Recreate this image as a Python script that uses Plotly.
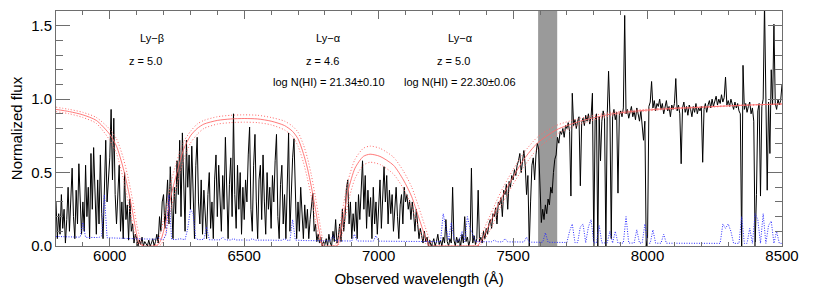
import numpy as np
import plotly.graph_objects as go

# ---------------- data ----------------
WAVE = np.arange(5800, 8501, 5)          # observed wavelength grid (Å)

F5800 = [0.30,0.05,0.22,0.08,0.35,0.12,0.25,0.02,0.18,0.40,0.10,0.30,0.53,0.20,0.05,0.38,0.15,0.56,0.25,0.08]
F5900 = [0.30,0.10,0.55,0.20,0.40,0.05,0.63,0.25,0.67,0.30,0.08,0.45,0.15,0.62,0.22,0.05,0.40,0.72,0.30,0.50]
F6000 = [0.60,0.93,0.45,0.87,0.35,0.15,0.42,0.55,0.10,0.30,0.05,0.50,0.18,0.28,0.04,0.32,0.10,0.15,0.02,0.08]
F6100 = [0.05,0.00,0.04,0.01,0.06,0.00,0.03,0.01,0.00,0.04,0.00,0.02,0.05,0.00,0.03,0.08,0.02,0.20,0.10,0.30]
F6200 = [0.35,0.12,0.28,0.45,0.15,0.54,0.30,0.05,0.40,0.22,0.58,0.35,0.72,0.20,0.77,0.45,0.10,0.72,0.40,0.62]
F6300 = [0.25,0.68,0.35,0.05,0.55,0.74,0.30,0.15,0.45,0.08,0.38,0.20,0.05,0.35,0.50,0.12,0.30,0.05,0.45,0.62]
F6400 = [0.20,0.55,0.35,0.10,0.48,0.25,0.74,0.30,0.05,0.42,0.60,0.20,0.90,0.35,0.12,0.55,0.25,0.50,0.08,0.40]
F6500 = [0.18,0.45,0.30,0.62,0.81,0.25,0.10,0.55,0.76,0.30,0.05,0.45,0.55,0.18,0.62,0.30,0.08,0.50,0.25,0.40]
F6600 = [0.12,0.48,0.30,0.58,0.76,0.20,0.05,0.42,0.55,0.15,0.35,0.05,0.45,0.77,0.10,0.38,0.60,0.73,0.30,0.05]
F6700 = [0.30,0.10,0.40,0.20,0.05,0.28,0.12,0.25,0.05,0.18,0.30,0.36,0.10,0.15,0.03,0.08,0.02,0.06,0.00,0.03]
F6800 = [0.01,0.05,0.00,0.08,0.02,0.00,0.10,0.03,0.18,0.02,0.06,0.15,0.03,0.25,0.10,0.20,0.39,0.45,0.15,0.30]
F6900 = [0.05,0.22,0.10,0.30,0.05,0.35,0.18,0.45,0.58,0.25,0.48,0.12,0.38,0.20,0.33,0.05,0.40,0.15,0.30,0.08]
F7000 = [0.25,0.45,0.12,0.35,0.54,0.30,0.48,0.15,0.38,0.22,0.35,0.10,0.30,0.40,0.20,0.05,0.28,0.35,0.15,0.40]
F7100 = [0.30,0.35,0.25,0.31,0.18,0.30,0.22,0.10,0.25,0.15,0.05,0.12,0.08,0.02,0.10,0.03,0.06,0.00,0.04,0.00]
F7200 = [0.02,0.05,0.00,0.03,0.08,0.01,0.04,0.00,0.06,0.02,0.18,0.03,0.00,0.05,0.02,0.40,0.04,0.00,0.06,0.02]
F7300 = [0.05,0.00,0.08,0.02,0.20,0.03,0.06,0.00,0.04,0.53,0.02,0.07,0.01,0.05,0.38,0.03,0.06,0.02,0.10,0.05]
F7400 = [0.12,0.08,0.15,0.18,0.12,0.22,0.20,0.26,0.15,0.30,0.28,0.33,0.20,0.38,0.35,0.42,0.25,0.44,0.40,0.48]
F7500 = [0.45,0.52,0.48,0.55,0.58,0.63,0.50,0.60,0.65,0.55,0.35,0.48,0.00,0.30,0.55,0.60,0.45,0.62,0.70,0.66]
F7600 = [0.45,0.16,0.25,0.18,0.28,0.22,0.32,0.28,0.40,0.36,0.50,0.59,0.62,0.74,0.70,0.78,0.76,0.80,0.74,0.82]
F7700 = [0.80,0.84,0.78,0.34,1.04,0.82,0.86,0.80,0.85,0.88,0.41,0.84,0.87,0.82,0.89,0.85,0.90,0.83,0.88,1.04]
F7800 = [0.00,0.86,0.90,0.00,0.88,0.58,0.85,0.92,0.87,0.00,0.89,1.19,0.90,0.05,0.88,0.93,0.86,0.91,0.36,0.89]
F7900 = [0.92,0.88,0.94,1.57,0.90,0.93,0.87,0.91,0.95,0.88,0.92,0.86,0.94,0.90,0.85,0.92,0.80,0.72,0.85,0.00]
F8000 = [0.05,0.95,0.98,1.12,0.94,0.99,0.92,0.97,0.95,1.00,0.93,0.97,0.90,0.96,0.99,0.92,0.95,0.88,0.96,0.93]
F8100 = [0.97,1.14,0.92,0.96,0.90,0.56,0.94,0.98,0.91,0.95,0.89,0.96,0.93,0.88,0.95,0.91,0.97,0.90,0.94,0.92]
F8200 = [0.95,0.57,0.93,0.97,0.91,0.96,0.99,0.94,1.00,0.95,0.98,1.02,0.96,1.00,0.97,1.03,0.98,1.01,1.15,0.96]
F8300 = [0.99,0.95,1.00,0.96,0.93,0.98,0.94,0.97,0.92,0.90,0.00,1.23,0.93,0.97,0.91,0.95,0.98,0.90,0.94,0.85]
F8400 = [0.00,0.35,0.92,0.97,0.34,0.95,1.00,1.65,0.94,0.38,0.98,0.63,1.20,0.96,1.51,0.97,0.93,1.00,0.96,0.99]
F8500 = [1.10]

FLUX = (F5800 + F5900 + F6000 + F6100 + F6200 + F6300 + F6400 + F6500 + F6600 + F6700 +
        F6800 + F6900 + F7000 + F7100 + F7200 + F7300 + F7400 + F7500 + F7600 + F7700 +
        F7800 + F7900 + F8000 + F8100 + F8200 + F8300 + F8400 + F8500)

ERR_WAVE = np.arange(5800, 8501, 10)
E5800 = [0.065,0.064,0.063,0.063,0.062,0.062,0.061,0.060,0.060,0.060]
E5900 = [0.16,0.059,0.058,0.058,0.057,0.057,0.058,0.070,0.35,0.056]
E6000 = [0.055,0.055,0.054,0.054,0.053,0.052,0.052,0.051,0.050,0.050]
E6100 = [0.049,0.049,0.048,0.048,0.047,0.047,0.046,0.046,0.060,0.046]
E6200 = [0.045,0.080,0.35,0.045,0.044,0.044,0.050,0.044,0.043,0.12]
E6300 = [0.25,0.22,0.050,0.043,0.043,0.045,0.13,0.043,0.042,0.042]
E6400 = [0.042,0.042,0.060,0.042,0.041,0.041,0.050,0.041,0.041,0.041]
E6500 = [0.041,0.040,0.040,0.050,0.040,0.040,0.040,0.045,0.040,0.040]
E6600 = [0.040,0.039,0.039,0.040,0.039,0.050,0.039,0.038,0.18,0.040]
E6700 = [0.038,0.038,0.037,0.037,0.037,0.036,0.036,0.036,0.036,0.035]
E6800 = [0.035,0.035,0.035,0.070,0.035,0.034,0.034,0.034,0.034,0.034]
E6900 = [0.034,0.080,0.034,0.034,0.033,0.033,0.033,0.033,0.033,0.070]
E7000 = [0.033,0.033,0.032,0.032,0.032,0.032,0.032,0.032,0.031,0.031]
E7100 = [0.031,0.031,0.031,0.031,0.031,0.030,0.030,0.030,0.030,0.030]
E7200 = [0.030,0.030,0.030,0.030,0.22,0.13,0.040,0.16,0.050,0.030]
E7300 = [0.040,0.10,0.030,0.20,0.12,0.080,0.030,0.029,0.029,0.029]
E7400 = [0.029,0.029,0.029,0.040,0.029,0.028,0.028,0.050,0.028,0.028]
E7500 = [0.028,0.027,0.027,0.027,0.027,0.060,0.026,0.026,0.026,0.026]
E7600 = [0.026,0.025,0.090,0.025,0.025,0.025,0.024,0.024,0.024,0.024]
E7700 = [0.024,0.10,0.15,0.023,0.023,0.13,0.15,0.022,0.13,0.18]
E7800 = [0.022,0.021,0.14,0.021,0.021,0.021,0.10,0.020,0.10,0.020]
E7900 = [0.020,0.020,0.20,0.020,0.020,0.020,0.11,0.020,0.020,0.15]
E8000 = [0.019,0.019,0.11,0.019,0.019,0.019,0.080,0.019,0.019,0.019]
E8100 = [0.018,0.018,0.018,0.018,0.018,0.018,0.018,0.018,0.018,0.018]
E8200 = [0.018,0.018,0.018,0.018,0.018,0.018,0.018,0.018,0.15,0.12]
E8300 = [0.15,0.10,0.018,0.018,0.018,0.20,0.018,0.018,0.12,0.018]
E8400 = [0.22,0.18,0.018,0.22,0.018,0.14,0.17,0.018,0.10,0.018]
E8500 = [0.018]
ERR = (E5800 + E5900 + E6000 + E6100 + E6200 + E6300 + E6400 + E6500 + E6600 + E6700 +
       E6800 + E6900 + E7000 + E7100 + E7200 + E7300 + E7400 + E7500 + E7600 + E7700 +
       E7800 + E7900 + E8000 + E8100 + E8200 + E8300 + E8400 + E8500)

MODEL_WAVE = [5800,5850,5900,5950,6000,6025,6050,6070,6085,6100,6110,6125,6165,6180,6190,
              6200,6215,6230,6250,6275,6300,6325,6350,6400,6450,6500,6550,6600,6650,6680,
              6700,6720,6735,6750,6765,6778,6790,6800,6835,6845,6855,6870,6887,6912,6943,
              6968,7005,7055,7092,7123,7148,7173,7190,7205,7350,7365,7380,7415,7452,7500,
              7540,7590,7660,7750,7870,8030,8200,8350,8500]
MODEL = [0.930,0.915,0.893,0.855,0.76,0.68,0.53,0.37,0.23,0.08,0.02,0.0,0.0,0.01,0.04,
         0.10,0.22,0.36,0.50,0.66,0.75,0.80,0.83,0.855,0.865,0.868,0.865,0.85,0.82,0.78,
         0.73,0.63,0.53,0.40,0.25,0.11,0.01,0.0,0.0,0.0,0.06,0.21,0.38,0.53,0.61,
         0.625,0.61,0.55,0.45,0.335,0.20,0.065,0.0,0.0,0.0,0.0,0.03,0.16,0.31,0.47,
         0.59,0.70,0.79,0.85,0.90,0.93,0.945,0.958,0.967]
MODEL_HI = [0.945,0.93,0.91,0.875,0.795,0.73,0.60,0.45,0.31,0.15,0.07,0.0,0.0,0.04,0.10,
            0.18,0.31,0.45,0.58,0.71,0.78,0.83,0.855,0.88,0.89,0.893,0.89,0.875,0.85,0.815,
            0.775,0.69,0.60,0.48,0.33,0.19,0.06,0.0,0.0,0.03,0.13,0.29,0.45,0.59,0.665,
            0.68,0.665,0.605,0.51,0.40,0.27,0.13,0.04,0.0,0.0,0.02,0.07,0.21,0.36,0.52,
            0.635,0.74,0.82,0.87,0.91,0.935,0.948,0.96,0.968]
MODEL_LO = [0.915,0.90,0.875,0.835,0.72,0.63,0.46,0.29,0.15,0.03,0.0,0.0,0.0,0.0,0.01,
            0.04,0.14,0.27,0.42,0.59,0.70,0.76,0.80,0.83,0.84,0.843,0.84,0.825,0.79,0.745,
            0.68,0.57,0.46,0.33,0.17,0.05,0.0,0.0,0.0,0.0,0.02,0.13,0.30,0.46,0.55,
            0.57,0.555,0.49,0.39,0.27,0.13,0.02,0.0,0.0,0.0,0.0,0.01,0.11,0.26,0.42,
            0.54,0.66,0.76,0.83,0.89,0.925,0.942,0.956,0.966]

TELLURIC_BAND = [7593, 7664]

LABEL_X = [6157, 6812, 7303]
LABEL_LINE = ["Ly\u2212\u03b2", "Ly\u2212\u03b1", "Ly\u2212\u03b1"]
Z_X = [6131, 6791, 7277]
Z_TEXT = ["z = 5.0", "z = 4.6", "z = 5.0"]
N_X = [6816, 7302]
N_TEXT = ["log N(HI) = 21.34\u00b10.10", "log N(HI) = 22.30\u00b10.06"]

# ---------------- figure ----------------
FONT = "Liberation Sans, Arial, Helvetica, sans-serif"
AXC = "#6e6e6e"

fig = go.Figure()

fig.add_shape(type="rect", xref="x", yref="paper", x0=TELLURIC_BAND[0], x1=TELLURIC_BAND[1],
              y0=0, y1=1, fillcolor="#9a9a9a", line_width=0, layer="below")

fig.add_trace(go.Scatter(x=WAVE, y=FLUX, mode="lines",
                         line=dict(color="black", width=1.0), hoverinfo="skip"))
red = "#ff6a6a"
fig.add_trace(go.Scatter(x=MODEL_WAVE, y=MODEL_HI, mode="lines",
                         line=dict(color=red, width=1, dash="1px,2px", shape="spline", smoothing=0.7)))
fig.add_trace(go.Scatter(x=MODEL_WAVE, y=MODEL_LO, mode="lines",
                         line=dict(color=red, width=1, dash="1px,2px", shape="spline", smoothing=0.7)))
fig.add_trace(go.Scatter(x=MODEL_WAVE, y=MODEL, mode="lines",
                         line=dict(color=red, width=0.9, shape="spline", smoothing=0.7)))
fig.add_trace(go.Scatter(x=ERR_WAVE, y=ERR, mode="lines",
                         line=dict(color="#2a2aff", width=1, dash="1px,1.5px")))

for x, t in zip(LABEL_X, LABEL_LINE):
    fig.add_annotation(x=x, y=1.415, text=t, showarrow=False, xanchor="center", yanchor="middle",
                       font=dict(size=11, color="black", family=FONT))
for x, t in zip(Z_X, Z_TEXT):
    fig.add_annotation(x=x, y=1.259, text=t, showarrow=False, xanchor="center", yanchor="middle",
                       font=dict(size=11, color="black", family=FONT))
for x, t in zip(N_X, N_TEXT):
    fig.add_annotation(x=x, y=1.116, text=t, showarrow=False, xanchor="center", yanchor="middle",
                       font=dict(size=11, color="black", family=FONT))

fig.update_xaxes(range=[5800, 8500], tickmode="linear", tick0=6000, dtick=500,
                 ticks="inside", ticklen=8, tickwidth=1, tickcolor=AXC,
                 minor=dict(dtick=100, tick0=5800, ticks="inside", ticklen=4, tickcolor=AXC),
                 showline=True, linecolor=AXC, linewidth=1, mirror="ticks",
                 showgrid=False, zeroline=False, automargin=False,
                 ticklabelstandoff=-4,
                 tickfont=dict(size=15, color="black", family=FONT),
                 title=dict(text="Observed wavelength (\u00c5)", standoff=10,
                            font=dict(size=15, color="black", family=FONT)))
fig.update_yaxes(range=[0, 1.6], tickmode="array", tickvals=[0, 0.5, 1.0, 1.5],
                 ticktext=["0.0", "0.5", "1.0", "1.5"],
                 ticks="inside", ticklen=14, tickwidth=1, tickcolor=AXC,
                 minor=dict(dtick=0.1, tick0=0, ticks="inside", ticklen=7, tickcolor=AXC),
                 showline=True, linecolor=AXC, linewidth=1, mirror="ticks",
                 showgrid=False, zeroline=False, automargin=False,
                 tickfont=dict(size=15, color="black", family=FONT),
                 title=dict(text="Normalized flux", standoff=6,
                            font=dict(size=15, color="black", family=FONT)))

# the page body adds an 8 px offset, so the figure is sized to sit inside 814x291
fig.update_layout(width=806, height=283, showlegend=False,
                  margin=dict(l=48, r=32, t=3, b=45),
                  paper_bgcolor="white", plot_bgcolor="white",
                  font=dict(family=FONT, color="black"))

fig.write_html("out.html")
